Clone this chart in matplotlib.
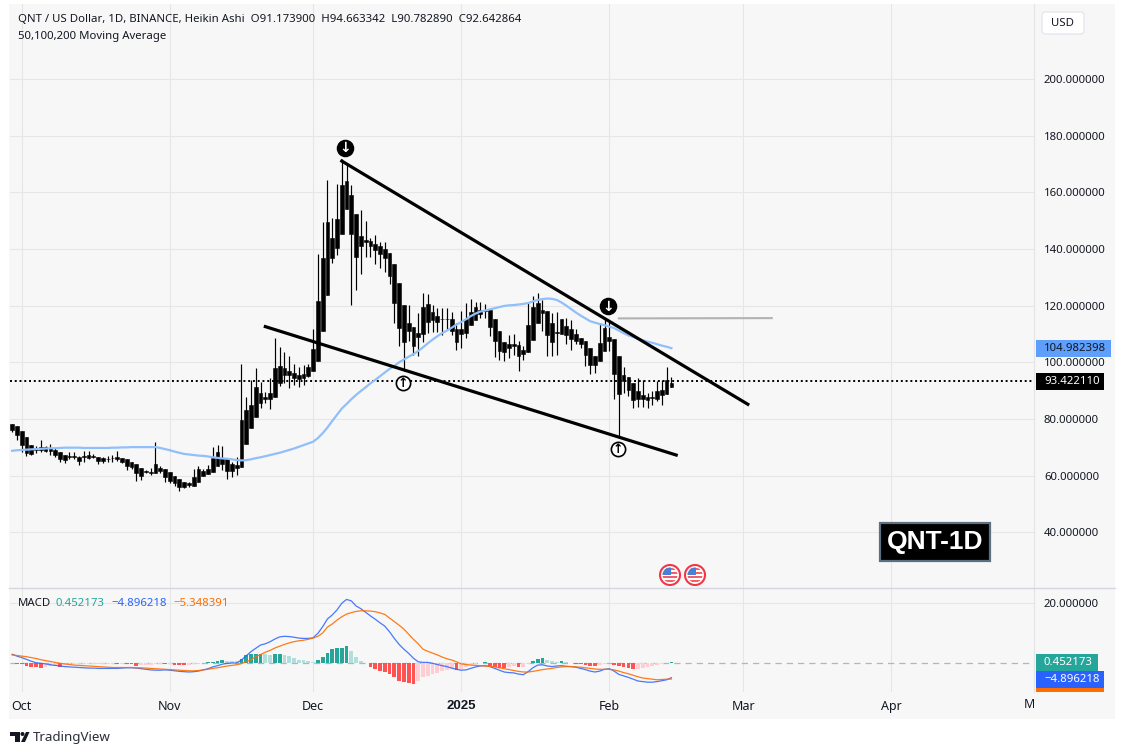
import numpy as np
import pandas as pd
import matplotlib
matplotlib.use('Agg')
import matplotlib.pyplot as plt
import matplotlib.dates as mdates
from matplotlib.patches import Rectangle, Circle, FancyBboxPatch, Polygon
from matplotlib.transforms import Bbox

plt.rcParams['font.family'] = ['Noto Sans', 'DejaVu Sans']

# Daily Heikin Ashi candles
first_day = '2024-09-29'

body_top = [78.4,77.7,75.9,73.7,70.9,69.7,70.2,70,69.7,69.1,
            68.5,67.3,66.8,66.8,66.7,66.8,67.4,67,66.6,66.4,
            66,66.4,66.7,66.3,65.9,65,64.3,62.8,61.8,61.4,
            64.3,62.8,62.4,61.4,60,59,57.9,57.3,59.7,62.5,
            61.8,62.5,66.4,68.5,66.4,66.4,64.3,63.9,79.8,83.3,
            85.1,91.4,
            89.1,87.7,89.1,97.9,98.8,97.9,97,96.2,95.6,95.9,
            98.3,104.6,121.6,136.7,149.5,143.8,150.5,162.6,163.9,159,
            152.3,144.6,143.1,142.7,141.8,141.1,140,138.5,134.6,127.9,
            120.2,113.8,112.4,110.3,119.5,120.5,117.7,116.5,115.4,115.4,
            115.4,111.6,111.6,115.4,117.8,119.6,118.6,118.4,118.4,115.4,
            110.9,107.3,106.3,106.6,106.2,104.5,113.3,119.6,121,118.3,
            118,113.9,110.6,115.4,112.7,111.6,110.1,108.6,107.7,105.1,
            102.4,106.9,112.1,108.9,108.4,102.4,95.7,94.7,92.7,89.8,
            88.6,87.7,87.8,89.8,90.2,93.7,92.7]

body_bot = [76.2,74.2,70.9,68,67.8,69.2,69.2,68.8,68.8,67.2,
            66,65.7,66.5,66.5,65.3,66.5,66.1,66.7,65.3,65.3,
            65.8,66.1,65.8,64.8,63.5,63.2,61.1,60,61.4,61.1,
            61.1,61.8,59.7,58.3,57.5,56.1,56.1,56.8,56.5,57.9,
            60,60.7,61.4,63.5,64.3,61.8,61.8,62.8,63.2,71.3,
            77,80.8,
            85.6,87.2,87.1,87.9,92.6,95.6,95.6,94.6,94.2,94.5,
            95.2,96.8,100.6,111.2,123.9,136.8,140.2,145.1,154,145.1,
            137,141.2,142.4,140.9,139.7,138.3,136.9,130.6,121.1,112,
            107.2,111.2,105.8,109.1,109.9,114.4,115,114.1,115.2,115.2,
            111,107.2,110.1,110.4,113,115.1,117.1,118,112.5,107.4,
            103.9,103.7,104.9,105.7,102.4,103.1,103.6,108,113.7,117.4,
            109.8,107.1,110.3,110.1,109.8,108.3,107.4,106.3,102.7,99.2,
            99.2,100.6,103.9,107.7,95.9,89,93.3,90.4,86.6,87.2,
            87.1,86.6,87.4,87.2,88.4,89,91.3]

wick_hi = [78.4,77.7,75.9,73.7,70.9,70.6,72.7,70.4,71.3,69.7,
           68.5,67.3,68.3,68.3,67,68.8,68.8,67.5,66.6,66.7,
           67,67.3,68.8,66.3,65.9,65,64.3,62.8,62.1,62.7,
           72,63.5,62.4,61.4,60,59,57.9,57.9,62.5,63.5,
           62.5,63.9,70.2,71,70.6,66.4,65,66.7,99.5,87.9,
           93.9,98.1,
           93.2,89.7,94.4,108.5,105.4,103.6,102.3,99.5,98.5,99.1,
           99.5,111.7,138.3,149.5,164.4,150.9,162.9,171.7,169.7,162.6,
           152.3,153.8,149.8,143.8,145,142.6,142.3,138.5,134.6,127.9,
           120.2,120.2,112.4,117.3,124.4,124.2,120.4,119.2,119.2,119.2,
           117.7,113.9,118,121,122.5,121.2,121.2,120.7,118.4,115.4,
           110.9,107.3,109.8,110,107.4,105.7,121.2,123.3,124.5,122.1,
           118,117.4,117.7,115.4,115.7,115.1,111.6,108.6,107.7,105.1,
           102.4,113.9,115.3,114.5,108.4,102.4,98.3,94.7,92.7,94.3,
           93.9,89.2,89.8,93.3,93.9,98.2,94.9]

wick_lo = [75.3,72.7,68.2,66.8,67.3,68,68.5,68.2,67.4,66.6,
           64.7,64.5,66,66,63.9,64.7,65.9,66.1,64.3,64.6,
           65,64.7,65.1,64.6,61.9,62.5,58.3,58.6,61,60.4,
           61.1,61.1,57.9,57.6,56.5,54.7,55.5,56.1,56.5,57.9,
           60,60.7,61.4,63.5,62.1,59,59.7,60.4,63.2,71.3,
           77,80.8,
           83.8,85.6,83.5,87.9,91.7,92.6,90.9,92.1,91.2,92.1,
           94.8,96.8,100.6,111.2,123.9,135.2,137.9,145.1,154,120.4,
           125.6,131.2,137,137.3,134.8,133.2,131.9,127.5,113.7,105.6,
           96.8,107.4,102.6,102.3,107,110.5,110.6,110.6,109.8,111.6,
           109.8,104.3,105.1,108.6,113,115.1,115.7,115.7,109.2,101.8,
           100.7,100.4,101.6,102.7,96.9,101,103.6,108,113.7,111,
           102.4,102.4,102.7,110.1,106.3,104.5,106.3,105.1,98.6,96,
           96.3,100.6,103.9,103.9,87.1,73.3,89.2,88,83.9,84.3,
           84.3,83.8,84.9,86.3,84.9,89,91.3]

ma_50 = [68.8,69,69.1,69.2,69.3,69.4,69.5,69.6,69.7,69.7,
         69.8,69.9,69.9,69.9,69.9,69.8,69.8,69.8,69.8,69.8,
         69.8,69.9,69.9,70,70,70.1,70.1,70.1,70.1,70.1,
         70.1,69.8,69.4,69,68.5,68.1,67.7,67.5,67.3,67.1,
         67,66.8,66.5,66.3,66.1,66,65.8,65.5,65.4,65.5,
         65.8,66.2,66.5,66.9,67.3,67.7,68.1,68.6,69.1,69.6,
         70.2,70.8,71.4,72,73.3,75,77,79.3,81.5,83.7,
         85.3,87,88.5,89.9,91.2,92.6,93.8,95.1,96.4,97.7,
         98.7,100,101,102,102.9,104,105.3,106.7,108,109.2,
         110.3,111.2,112.2,113.3,114.2,115.2,116.3,117.2,117.9,118.3,
         118.7,119.1,119.5,119.9,120.1,120.2,120.4,120.6,120.9,121.5,
         122,122.3,122.5,122.4,122,121.1,120,118.8,117.6,116.5,
         115.5,114.5,114,113.5,113.1,112.6,112.1,111.2,110.3,109.5,
         108.9,108.3,107.8,107.3,106.9,106.4,105.9,105.5,105]

macd_line = [2.9,2.3,1.8,1.2,.6,.1,-.1,-.3,-.6,-.8,
             -1,-1.2,-1.3,-1.4,-1.5,-1.6,-1.7,-1.7,-1.8,-1.8,
             -1.8,-1.8,-1.8,-1.7,-1.6,-1.6,-1.7,-1.9,-2.1,-2.3,
             -2.4,-2.4,-2.3,-2.4,-2.6,-2.8,-2.9,-3,-2.9,-2.7,
             -2.3,-1.9,-1.3,-.9,-.4,-.1,0,0,1,2.4,
             3.8,4.9,6,6.4,7.1,8,8.7,8.9,8.8,8.6,
             8.3,8.2,8.2,8.4,9.9,12.1,14.7,16,17.7,19.9,
             21.2,20.7,19,18.1,16.9,15.7,14.6,13.4,12.3,10.4,
             8.2,6.2,4.6,3.2,1.6,.4,.2,.2,-.1,-.5,
             -.9,-1.2,-1.7,-2.1,-2.4,-2.3,-1.8,-1.3,-1,-.9,
             -1.2,-1.8,-2.4,-3,-3.2,-3.3,-3.7,-3.9,-2.9,-1.6,
             -.7,-.6,-1,-1.2,-1,-.9,-1.1,-1.2,-1.4,-1.8,
             -2.2,-2.7,-3,-2.7,-2.1,-1.9,-2.7,-3.8,-4.3,-4.8,
             -5.4,-6,-6.2,-6.4,-6.4,-6.2,-5.9,-5.6,-4.9]

signal_line = [2.7,2.5,2.3,2.1,1.8,1.5,1.1,.8,.5,.2,
               -.1,-.3,-.5,-.7,-.8,-.9,-1,-1.1,-1.2,-1.3,
               -1.4,-1.5,-1.5,-1.5,-1.5,-1.5,-1.6,-1.6,-1.7,-1.8,
               -1.9,-2,-2.1,-2.2,-2.3,-2.4,-2.5,-2.6,-2.6,-2.5,
               -2.3,-2.1,-1.8,-1.6,-1.3,-1,-.8,-.6,-.2,.4,
               1.1,2.1,2.8,3.6,4.2,5,5.6,6.2,6.7,7.1,
               7.4,7.6,7.9,8.3,8.9,10,12,13,14.3,15.4,
               16.3,16.8,17.2,17.4,17.4,17.3,17.1,16.7,16.2,15,
               13.8,12.6,11.3,9.6,7.9,6.4,4.6,3.9,3.3,2.7,
               2,1.4,1,.4,-.3,-.5,-.7,-.8,-.9,-1,
               -1.1,-1.3,-1.6,-1.9,-2.2,-2.5,-2.8,-3,-3,-2.8,
               -2.5,-2.2,-2,-1.8,-1.5,-1.3,-1.2,-1.2,-1.3,-1.4,
               -1.6,-1.8,-2,-2.1,-2.1,-2.1,-2.3,-2.7,-3.2,-3.6,
               -4.1,-4.6,-5,-5.2,-5.4,-5.6,-5.5,-5.4,-5.35]

macd_hist = [0,-.3,-.5,-.9,-1.3,-1.5,-1.6,-1.2,-1.1,-1,
             -1.3,-.7,-.6,-.5,-.5,-.4,-.4,-.4,-.3,-.3,
             -.3,-.2,-.4,-.3,-.4,-.5,-.9,-.7,-.7,-.6,
             -.5,-.3,-.5,-.4,-.6,-.7,-.8,-.7,-.4,-.2,
             .1,.3,.4,.7,.9,.8,.7,.6,1.2,2.5,
             3,3.1,3.1,2.9,2.8,2.9,2.9,2.8,2.2,1.7,
             1.1,.9,.5,.3,1,1.9,3.2,4.7,4.9,5.1,
             5.7,4,2.1,.7,-.1,-1.3,-1.9,-2.6,-3,-3.6,
             -4.6,-5.9,-6.4,-6.6,-6.9,-6,-4.6,-4.2,-3.8,-3.2,
             -2.7,-2.3,-2.1,-2.5,-1.9,-1.2,-.8,-.5,.1,.2,
             -.9,-1.4,-1.6,-1.8,-1.3,-1,-1.2,-1.2,-.3,.6,
             1.2,1.5,.9,.5,.4,.5,.2,0,-.4,-.5,
             -.6,-1,-1.1,-.6,-.3,.1,-.7,-1.1,-1.5,-1.6,
             -2.1,-2,-1.8,-1.5,-1.1,-.8,-.5,.1,.45]

# Drawn trend lines and the marks on them
upper_dates = ['2024-12-07', '2025-03-02']
upper_prices = [171, 85.2]
lower_dates = ['2024-11-21', '2025-02-15']
lower_prices = [112.6, 67.3]
flat_dates = ['2025-02-03', '2025-03-07']
flat_prices = [115.5, 115.6]
down_dates = ['2024-12-07 16:00', '2025-01-31 18:00']
down_prices = [175.5, 119.7]
up_dates = ['2024-12-19 18:00', '2025-02-02 18:00']
up_prices = [92.6, 69.4]

last_price = 93.42211
price_ticks = [40, 60, 80, 100, 120, 140, 160, 180, 200]
tick_dates = ['2024-10-01', '2024-11-01', '2024-12-01', '2025-01-01', '2025-02-01', '2025-03-01', '2025-04-01']
tick_labels = ['Oct', 'Nov', 'Dec', '2025', 'Feb', 'Mar', 'Apr']

W, H = 1125, 755
TEXT = '#131722'
GRID = '#e6e6e6'
PANEL = '#f7f7f7'


def px_axes(left, top, right, bottom):
    return [left / W, 1 - bottom / H, (right - left) / W, (bottom - top) / H]


dates = pd.date_range(first_day, periods=len(body_top))
body_top = np.array(body_top)
body_bot = np.array(body_bot)
macd_hist = np.array(macd_hist)

fig = plt.figure(figsize=(W / 100, H / 100), dpi=100, facecolor='white')
fig.add_artist(Rectangle((9 / W, 1 - 719 / H), 1106 / W, 715 / H, transform=fig.transFigure,
                         facecolor=PANEL, edgecolor='none', zorder=-1))

ax = fig.add_axes(px_axes(10, 4, 1034, 588), facecolor='none')
ax_macd = fig.add_axes(px_axes(10, 589, 1034, 692), facecolor='none')

day0 = mdates.date2num(pd.Timestamp('2024-10-01'))
x_range = (day0 - 2.45, day0 + 211.9)

# Price pane
ax.vlines(dates, wick_lo, wick_hi, color='black', lw=0.85, zorder=3)
ax.bar(dates, body_top - body_bot, bottom=body_bot, width=0.78, color='black',
       edgecolor='black', lw=0.4, zorder=3)
ax.plot(dates, ma_50, color='#90bff9', lw=1.6, zorder=4)
ax.axhline(last_price, color='black', lw=1.4, ls=(0, (1, 1.45)), zorder=2)
ax.plot(pd.to_datetime(upper_dates), upper_prices, color='black', lw=2.3, zorder=5)
ax.plot(pd.to_datetime(lower_dates), lower_prices, color='black', lw=2.3, zorder=5)
ax.plot(pd.to_datetime(flat_dates), flat_prices, color='#b2b2b2', lw=1.5, zorder=5)

ax.scatter(pd.to_datetime(down_dates), down_prices, s=135, color='black', zorder=6)
ax.scatter(pd.to_datetime(up_dates), up_prices, s=105, color='white', edgecolor='black', lw=1.2, zorder=6)
for d, p in zip(pd.to_datetime(down_dates), down_prices):
    ax.text(d, p, '↓', color='white', fontsize=10, fontweight='bold', ha='center', va='center',
            family='DejaVu Sans', zorder=7)
for d, p in zip(pd.to_datetime(up_dates), up_prices):
    ax.text(d, p, '↑', color='black', fontsize=9, fontweight='bold', ha='center', va='center',
            family='DejaVu Sans', zorder=7)

ax.set_xlim(x_range)
ax.set_ylim(20.4, 226.4)
ax.set_yticks(price_ticks)
ax.set_yticklabels(['%.6f' % t for t in price_ticks])
ax.yaxis.tick_right()
ax.set_xticks(pd.to_datetime(tick_dates))
ax.tick_params(axis='x', labelbottom=False, length=0)
ax.tick_params(axis='y', length=0, pad=7.2, labelsize=8.2, labelcolor=TEXT)
ax.grid(True, color=GRID, lw=0.8)
ax.set_axisbelow(True)
for s in ax.spines.values():
    s.set_visible(False)

# MACD pane
hist_colors = []
prev = 0
for v in macd_hist:
    if v >= 0:
        hist_colors.append('#26a69a' if v >= prev else '#b2dfdb')
    else:
        hist_colors.append('#ff5252' if v < prev else '#ffcdd2')
    prev = v
ax_macd.bar(dates, macd_hist, width=0.78, color=hist_colors, zorder=2)
ax_macd.axhline(0, color='#b2b5be', lw=0.9, ls=(0, (5, 4)), zorder=1)
ax_macd.plot(dates, macd_line, color='#2962ff', lw=0.9, alpha=0.85, zorder=3)
ax_macd.plot(dates, signal_line, color='#ff6d00', lw=0.9, alpha=0.9, zorder=4)
ax_macd.set_xlim(x_range)
ax_macd.set_ylim(-9.67, 24.67)
ax_macd.set_yticks([20])
ax_macd.set_yticklabels(['20.000000'])
ax_macd.yaxis.tick_right()
ax_macd.set_xticks(pd.to_datetime(tick_dates))
ax_macd.set_xticklabels(tick_labels)
ax_macd.tick_params(axis='x', length=0, pad=6, labelsize=9, labelcolor=TEXT)
ax_macd.tick_params(axis='y', length=0, pad=7.2, labelsize=8.2, labelcolor=TEXT)
year_label = ax_macd.get_xticklabels()[3]
year_label.set_family('Liberation Sans')
year_label.set_fontweight('bold')
year_label.set_fontsize(9.5)
ax_macd.grid(True, color=GRID, lw=0.8)
ax_macd.set_axisbelow(True)
for s in ax_macd.spines.values():
    s.set_visible(False)

# Everything else sits in one overlay in pixel coordinates
top = fig.add_axes([0, 0, 1, 1], facecolor='none', zorder=5)
top.set_xlim(0, W)
top.set_ylim(H, 0)
top.axis('off')

top.plot([1034, 1034], [4, 692], color='#e4e4e8', lw=0.8)
top.plot([9, 1115], [588, 588], color='#d6d6e0', lw=1)

top.text(18, 20, 'QNT / US Dollar, 1D, BINANCE, Heikin Ashi  O91.173900  H94.663342  L90.782890  C92.642864',
         fontsize=8.2, color=TEXT, va='center')
top.text(18, 37, '50,100,200 Moving Average', fontsize=8.2, color=TEXT, va='center')

top.add_patch(FancyBboxPatch((1042, 12), 42, 22, boxstyle='round,pad=0,rounding_size=3',
                             facecolor='white', edgecolor='#e0e3eb', lw=0.8))
top.text(1063, 23, 'USD', fontsize=8.2, color=TEXT, ha='center', va='center')

# last value tags on the scales
top.add_patch(Rectangle((1036, 340), 75, 17, facecolor='#5d9ffb'))
top.text(1044, 348.5, '104.982398', fontsize=8.2, color=TEXT, va='center')
top.add_patch(Rectangle((1036, 373), 68, 17, facecolor='black'))
top.text(1044, 381.5, '93.422110', fontsize=8.2, color='white', va='center')
top.add_patch(Rectangle((1036, 654), 62, 17, facecolor='#26a69a'))
top.text(1044, 662.5, '0.452173', fontsize=8.2, color='white', va='center')
top.add_patch(Rectangle((1036, 688), 68, 4, facecolor='#ff6d00'))
top.add_patch(Rectangle((1036, 671), 68, 17, facecolor='#2962ff'))
top.text(1044, 679.5, '−4.896218', fontsize=8.2, color='white', va='center')

top.text(18, 603, 'MACD', fontsize=8.2, color=TEXT, va='center')
top.text(55, 603, '0.452173', fontsize=8.2, color='#26a69a', va='center')
top.text(111, 603, '−4.896218', fontsize=8.2, color='#2962ff', va='center')
top.text(173, 603, '−5.348391', fontsize=8.2, color='#ff6d00', va='center')

may = top.text(1036, 704.5, 'May', fontsize=9, color=TEXT, ha='center', va='center')
may.set_clip_box(Bbox([[0, 0], [1034, H]]))
may.set_clip_on(True)

# QNT-1D stamp
top.add_patch(Rectangle((880, 523), 110, 38, facecolor='black', edgecolor='#5d7082', lw=1.6))
top.text(935, 542.5, 'QNT-1D', fontsize=19, fontweight='bold', family='Liberation Sans',
         color='white', ha='center', va='center')

# event icons
for cx in [670, 695]:
    clip = Circle((cx, 575), 7.5, transform=top.transData)
    top.add_patch(Circle((cx, 575), 10, facecolor='white', edgecolor='#f23645', lw=1.5))
    for i in range(4):
        top.add_patch(Rectangle((cx - 8, 568 + i * 4), 16, 2, facecolor='#f0606a', clip_path=clip))
    top.add_patch(Rectangle((cx - 8, 567), 8.5, 7.5, facecolor='#4a7fd6', clip_path=clip))

# logo and name
top.add_patch(Polygon([(10, 732), (20, 732), (20, 742), (15, 742), (15, 736), (10, 736)], facecolor='#131722'))
top.add_patch(Circle((22.5, 734), 2, facecolor='#131722'))
top.add_patch(Polygon([(26, 732), (29.5, 732), (25, 742), (21, 742)], facecolor='#131722'))
top.text(33, 738, 'TradingView', fontsize=9.6, color='#2a2e39', va='center')

fig.savefig('out.png', dpi=100, facecolor='white')
